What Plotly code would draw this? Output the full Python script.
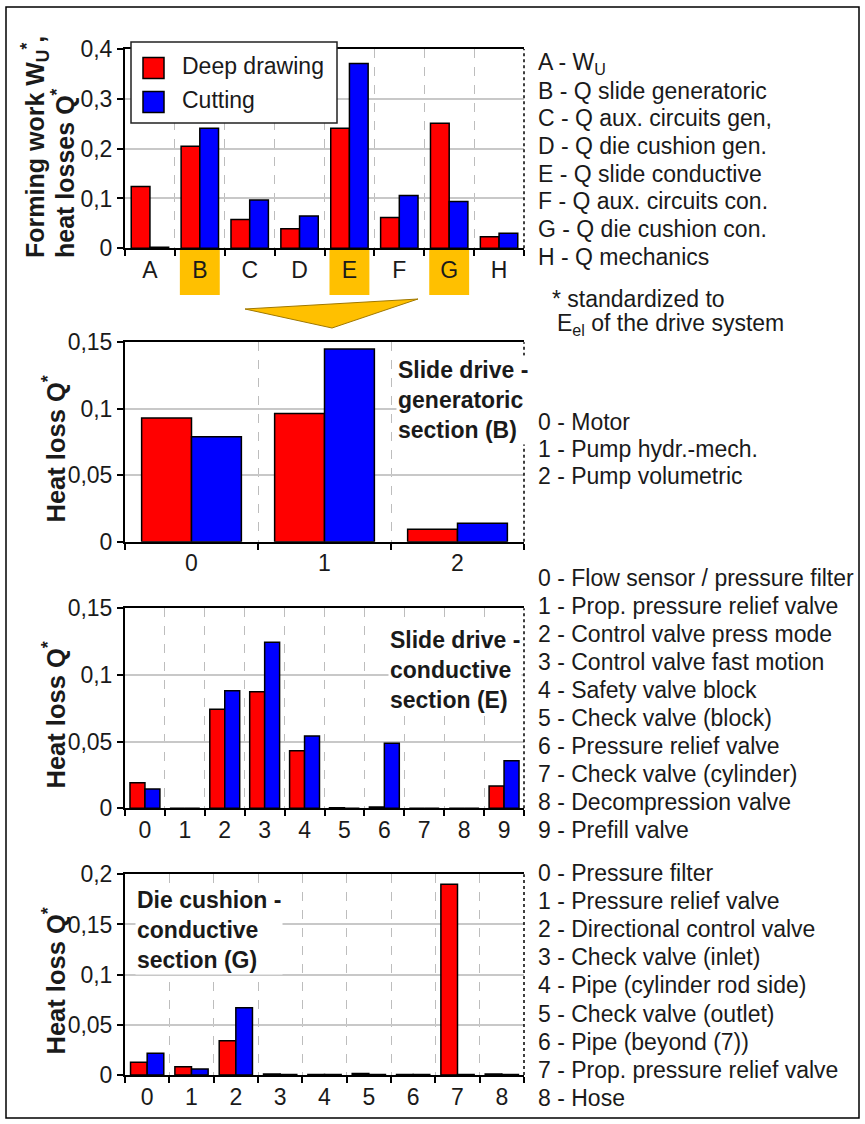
import plotly.graph_objects as go

# ---------------- data ----------------
top_categories = ["A", "B", "C", "D", "E", "F", "G", "H"]
top_deep = [0.124, 0.205, 0.058, 0.039, 0.241, 0.062, 0.251, 0.023]
top_cut = [0.002, 0.241, 0.097, 0.065, 0.371, 0.106, 0.094, 0.030]
top_yticks = [0, 0.1, 0.2, 0.3, 0.4]
top_yticktext = ["0", "0,1", "0,2", "0,3", "0,4"]
highlighted = ["B", "E", "G"]

gen_categories = ["0", "1", "2"]
gen_deep = [0.093, 0.0965, 0.0093]
gen_cut = [0.079, 0.145, 0.0138]

slide_categories = ["0", "1", "2", "3", "4", "5", "6", "7", "8", "9"]
slide_deep = [0.0192, 0.0, 0.0743, 0.0875, 0.0432, 0.0005, 0.001, 0.0, 0.0, 0.0167]
slide_cut = [0.0145, 0.0, 0.0882, 0.1245, 0.0542, 0.0, 0.0488, 0.0, 0.0, 0.0357]

cushion_categories = ["0", "1", "2", "3", "4", "5", "6", "7", "8"]
cushion_deep = [0.0126, 0.0083, 0.0342, 0.001, 0.0005, 0.0015, 0.0005, 0.19, 0.001]
cushion_cut = [0.0216, 0.006, 0.067, 0.0005, 0.0005, 0.0005, 0.0005, 0.0005, 0.0005]

small_yticks = [0, 0.05, 0.1, 0.15]
small_yticktext = ["0", "0,05", "0,1", "0,15"]
cushion_yticks = [0, 0.05, 0.1, 0.15, 0.2]
cushion_yticktext = ["0", "0,05", "0,1", "0,15", "0,2"]

series_names = ["Deep drawing", "Cutting"]

top_labels = ["A - W<sub>U</sub>", "B - Q slide generatoric", "C - Q aux. circuits gen,",
              "D - Q die cushion gen.", "E - Q slide conductive", "F - Q aux. circuits con.",
              "G - Q die cushion con.", "H - Q mechanics"]
gen_labels = ["0 - Motor", "1 - Pump hydr.-mech.", "2 - Pump volumetric"]
slide_labels = ["0 - Flow sensor / pressure filter", "1 - Prop. pressure relief valve",
                "2 - Control valve press mode", "3 - Control valve fast motion",
                "4 - Safety valve block", "5 - Check valve (block)", "6 - Pressure relief valve",
                "7 - Check valve (cylinder)", "8 - Decompression valve", "9 - Prefill valve"]
cushion_labels = ["0 - Pressure filter", "1 - Pressure relief valve", "2 - Directional control valve",
                  "3 - Check valve (inlet)", "4 - Pipe (cylinder rod side)", "5 - Check valve (outlet)",
                  "6 - Pipe (beyond (7))", "7 - Prop. pressure relief valve", "8 - Hose"]

# ---------------- styling / layout helpers ----------------
W, H = 865, 1124
FONT = "Liberation Sans, Arial, sans-serif"
TXT = "#1a1a1a"
RED = "#FF0000"
BLUE = "#0000FF"
GOLD = "#FFC000"


def fx(x):
    return x / W


def fy(y):
    return 1 - y / H


X0, X1 = 125, 524
panels = [
    # (categories, deep, cut, yrange max, tickvals, ticktext, top px, bottom px)
    (top_categories, top_deep, top_cut, 0.4, top_yticks, top_yticktext, 49, 248.3),
    (gen_categories, gen_deep, gen_cut, 0.15, small_yticks, small_yticktext, 342.3, 541.7),
    (slide_categories, slide_deep, slide_cut, 0.15, small_yticks, small_yticktext, 608.3, 808.3),
    (cushion_categories, cushion_deep, cushion_cut, 0.2, cushion_yticks, cushion_yticktext, 874.3, 1075),
]

fig = go.Figure()
layout = dict(
    width=W, height=H, margin=dict(l=0, r=0, t=0, b=0),
    paper_bgcolor="white", plot_bgcolor="rgba(0,0,0,0)",
    barmode="group", bargap=0.25, bargroupgap=0,
    showlegend=False, separators=",.",
    font=dict(family=FONT, size=23, color=TXT),
)
shapes = []
annotations = []

for i, (cats, deep, cut, ymax, tv, tt, ytop, ybot) in enumerate(panels):
    n = i + 1
    xa = "x" if n == 1 else f"x{n}"
    ya = "y" if n == 1 else f"y{n}"
    for vals, col, name in ((deep, RED, series_names[0]), (cut, BLUE, series_names[1])):
        fig.add_trace(go.Bar(x=cats, y=vals, name=name, xaxis=xa, yaxis=ya,
                             marker=dict(color=col, line=dict(color="black", width=1.5))))
    xkey = "xaxis" if n == 1 else f"xaxis{n}"
    ykey = "yaxis" if n == 1 else f"yaxis{n}"
    layout[xkey] = dict(
        domain=[fx(X0), fx(X1)], anchor=ya, type="category", tickson="boundaries",
        showline=True, linecolor="black", linewidth=2, mirror=True,
        ticks="outside", ticklen=6, tickwidth=1.5, tickcolor="black",
        showgrid=True, gridcolor="#bdbdbd", griddash="dash", gridwidth=1,
        tickfont=dict(size=23, color=TXT), automargin=False, fixedrange=True,
    )
    layout[ykey] = dict(
        domain=[fy(ybot), fy(ytop)], anchor=xa, range=[0, ymax],
        tickvals=tv, ticktext=tt,
        showline=True, linecolor="black", linewidth=2,
        ticks="outside", ticklen=6, tickwidth=1.5, tickcolor="black",
        showgrid=True, gridcolor="#c8c8c8", gridwidth=1.5, zeroline=False,
        tickfont=dict(size=23, color=TXT), automargin=False, fixedrange=True,
    )
    # dotted right border
    shapes.append(dict(type="line", xref="paper", yref="paper", x0=fx(X1), x1=fx(X1),
                       y0=fy(ybot), y1=fy(ytop), line=dict(color="black", width=1.5, dash="dot"),
                       layer="above"))

# highlighted category boxes under the top chart
for c in highlighted:
    idx = top_categories.index(c)
    shapes.append(dict(type="rect", xref="x", yref="paper", x0=idx - 0.4, x1=idx + 0.4,
                       y0=fy(295), y1=fy(249.5), fillcolor=GOLD, line=dict(width=0), layer="below"))

# arrow under the top chart
ax = [(245, 309), (418, 299), (332, 328)]
path = "M {} {} L {} {} L {} {} Z".format(*[v for p in ax for v in (fx(p[0]), fy(p[1]))])
shapes.append(dict(type="path", xref="paper", yref="paper", path=path, fillcolor=GOLD,
                   line=dict(color="#A07800", width=1)))

# manual legend
shapes.append(dict(type="rect", xref="paper", yref="paper", x0=fx(131), x1=fx(337),
                   y0=fy(123), y1=fy(42), fillcolor="white", line=dict(color="#222", width=1.5),
                   layer="above"))
for k, (col, name) in enumerate(((RED, series_names[0]), (BLUE, series_names[1]))):
    yc = 68 + 34 * k
    shapes.append(dict(type="rect", xref="paper", yref="paper", x0=fx(143), x1=fx(164),
                       y0=fy(yc + 10.5), y1=fy(yc - 10.5), fillcolor=col,
                       line=dict(color="black", width=1.5), layer="above"))
    annotations.append(dict(xref="paper", yref="paper", x=fx(180), y=fy(yc - 2), text=name,
                            xanchor="left", yanchor="middle", showarrow=False,
                            font=dict(size=23, color=TXT)))

# outer frame
shapes.append(dict(type="rect", xref="paper", yref="paper", x0=fx(6), x1=fx(859),
                   y0=fy(1118), y1=fy(7), line=dict(color="black", width=1.5), layer="above"))

# y-axis titles
annotations.append(dict(xref="paper", yref="paper", x=fx(35), y=fy(260), xanchor="center",
                        yanchor="bottom", textangle=-90, showarrow=False,
                        text="<b>Forming work W<sub>U</sub><sup>*</sup>,</b>",
                        font=dict(size=25, color=TXT)))
annotations.append(dict(xref="paper", yref="paper", x=fx(63), y=fy(260), xanchor="center",
                        yanchor="bottom", textangle=-90, showarrow=False,
                        text="<b>heat losses Q<sup>*</sup></b>", font=dict(size=25, color=TXT)))
for yb in (525, 791, 1057):
    annotations.append(dict(xref="paper", yref="paper", x=fx(54), y=fy(yb), xanchor="center",
                            yanchor="bottom", textangle=-90, showarrow=False,
                            text="<b>Heat loss Q<sup>*</sup></b>", font=dict(size=25.5, color=TXT)))

# panel annotations
for xl, yt, txt in ((396, 355, "<b>Slide drive -<br>generatoric<br>section (B)</b>"),
                    (388, 625, "<b>Slide drive -<br>conductive<br>section (E)</b>"),
                    (135, 885, "<b>Die cushion -<br>conductive<br>section (G)</b>")):
    annotations.append(dict(xref="paper", yref="paper", x=fx(xl), y=fy(yt), xanchor="left",
                            yanchor="top", align="left", showarrow=False, text=txt,
                            bgcolor="white", borderpad=1, font=dict(size=23, color=TXT)))

# right-hand label lists
for labels, y0, dy in ((top_labels, 63, 27.7), (gen_labels, 422, 27.0),
                       (slide_labels, 578, 28.0), (cushion_labels, 873, 28.1)):
    for k, lab in enumerate(labels):
        annotations.append(dict(xref="paper", yref="paper", x=fx(536), y=fy(y0 + dy * k),
                                xanchor="left", yanchor="middle", showarrow=False, text=lab,
                                font=dict(size=23, color=TXT)))

annotations.append(dict(xref="paper", yref="paper", x=fx(550), y=fy(299), xanchor="left",
                        yanchor="middle", showarrow=False, text="* standardized to",
                        font=dict(size=23, color=TXT)))
annotations.append(dict(xref="paper", yref="paper", x=fx(555), y=fy(324), xanchor="left",
                        yanchor="middle", showarrow=False,
                        text="E<sub>el</sub> of the drive system", font=dict(size=23, color=TXT)))

layout["shapes"] = shapes
layout["annotations"] = annotations
fig.update_layout(**layout)
fig.write_html("out.html", config={"displayModeBar": False},
               post_script="document.body.style.margin='0';")
